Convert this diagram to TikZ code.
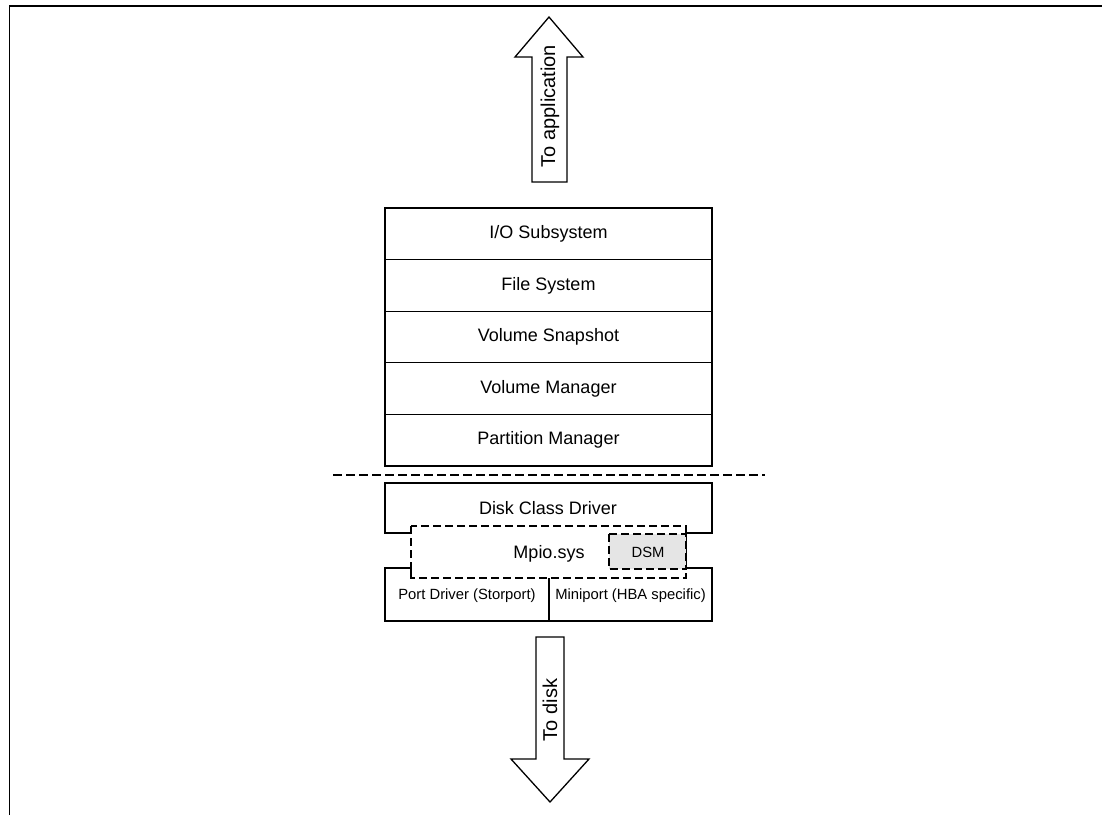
\documentclass[tikz,border=0pt]{standalone}
\usepackage{fontspec}
\setmainfont{Liberation Sans}
\begin{document}
\begin{tikzpicture}[x=1pt,y=-1pt,
  layer/.style={draw=black,line width=1.2pt,minimum width=327pt,minimum height=51.6pt,
    inner sep=0pt,font=\fontsize{18}{20}\selectfont},
  lbl/.style={inner sep=0pt,font=\fontsize{18}{20}\selectfont},
  small/.style={inner sep=0pt,font=\fontsize{14.8}{17}\selectfont},
  outline/.style={line width=1.2pt},
  bigarrow/.style={draw=black,line width=1.3pt,fill=white,line join=miter}]
\useasboundingbox (0,0) rectangle (1102,815);

% frame
\draw[line width=1.4pt] (9.5,815) -- (9.5,6) -- (1102,6);

% upward arrow
\draw[bigarrow] (532,182) -- (532,57) -- (515,57) -- (549,17) -- (583,57)
  -- (567,57) -- (567,182) -- cycle;
\node[lbl,rotate=90,font=\fontsize{20}{22}\selectfont] (toapp) at (550,106) {To application};

% upper stack
\node[layer] (io)   at (548.5,233.8) {I/O Subsystem};
\node[layer] (fs)   at (548.5,285.4) {File System};
\node[layer] (snap) at (548.5,337.0) {Volume Snapshot};
\node[layer] (vm)   at (548.5,388.6) {Volume Manager};
\node[layer] (pm)   at (548.5,440.2) {Partition Manager};

% separator
\coordinate (sepL) at (333,475);
\coordinate (sepR) at (765,475);
\draw[line width=2.4pt,dash pattern=on 9pt off 4pt] (sepL) -- (sepR);

% disk class driver outline
\draw[outline] (411,526) -- (411,533) -- (385,533) -- (385,483) -- (712,483)
  -- (712,533) -- (686,533);
\node[lbl] (disk) at (548,508) {Disk Class Driver};

% port / miniport outline
\draw[outline] (411,578) -- (411,568) -- (385,568) -- (385,621) -- (712,621)
  -- (712,568) -- (686,568);
\draw[outline] (549,578) -- (549,621);
\node[small] (port) at (467,596) {Port Driver (Storport)};
\node[small] (mini) at (630.5,596) {Miniport (HBA specific)};

% multipath driver with DSM
\draw[line width=1.6pt,dash pattern=on 8pt off 4pt] (411,526) rectangle (686,578);
\node[lbl] (mpio) at (549,554) {Mpio.sys};
\draw[line width=2.4pt,dash pattern=on 8pt off 4pt,fill=gray!20] (609,534) rectangle (686,569);
\node[small] (dsm) at (648,552) {DSM};

% downward arrow
\draw[bigarrow] (536,637) -- (536,759) -- (511,759) -- (550,802) -- (589,759)
  -- (564,759) -- (564,637) -- cycle;
\node[lbl,rotate=90,font=\fontsize{20}{22}\selectfont] (todisk) at (550,710) {To disk};
\end{tikzpicture}
\end{document}
